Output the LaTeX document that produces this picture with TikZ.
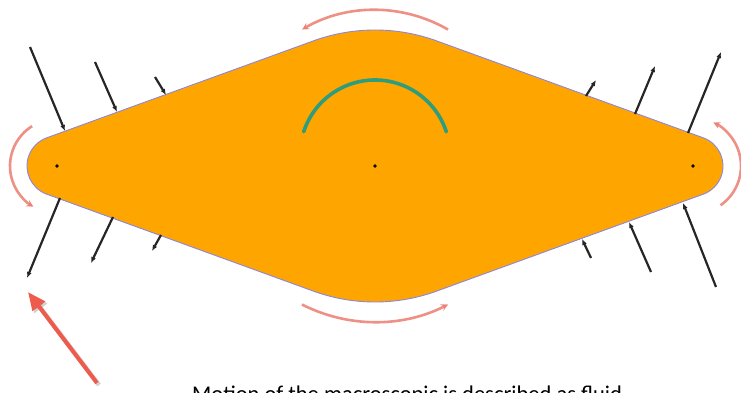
\documentclass[tikz,border=0pt]{standalone}
\usepackage{fontspec}
\setsansfont{Carlito}
\usetikzlibrary{arrows.meta,calc}

\definecolor{lobe}{HTML}{FFA500}
\definecolor{rim}{HTML}{8A86E0}
\definecolor{swirl}{HTML}{EC7C70}
\definecolor{spin}{HTML}{2F9C7C}
\definecolor{pointer}{HTML}{EE5B4D}
\definecolor{pin}{HTML}{C8927A}

\tikzset{
    flow/.style={draw=black!85, line width=2.2, -{Latex[length=6,width=5]}},
    turn/.style={draw=swirl, line width=2.6, opacity=0.85, -{Stealth[length=7,width=7]}},
}

\begin{document}
\begin{tikzpicture}[x=1pt,y=1pt]
        \useasboundingbox (0,0) rectangle (741,393);
        \coordinate (cl) at (57,227);
        \coordinate (cr) at (693,227);
        \coordinate (cm) at (375,227);
        \coordinate (ct) at (375,183);
        \coordinate (cb) at (375,271);
        % body
        \draw[rim, fill=lobe, line width=0.9]
            ($(cl)+(250:30)$) arc[start angle=250, end angle=110, radius=30]
            -- ($(ct)+(110:180)$) arc[start angle=110, end angle=70, radius=180]
            -- ($(cr)+(70:30)$) arc[start angle=70, end angle=-70, radius=30]
            -- ($(cb)+(-70:180)$) arc[start angle=-70, end angle=-110, radius=180]
            -- cycle;
        \foreach \p in {cl, cr, cm}{
            \fill[pin] (\p) circle (1.8);
        }
        % rotation
        \draw[spin, line width=3.6, line cap=round] ($(375,238)+(162:75)$) arc[start angle=162, end angle=18, radius=75];
        \draw[turn] ($(cl)+(122:47)$) arc[start angle=122, end angle=240, radius=47];
        \draw[turn] ($(375,237)+(60:146)$) arc[start angle=60, end angle=120, radius=146];
        \draw[turn] ($(375,232)+(243:161)$) arc[start angle=243, end angle=297, radius=161];
        \draw[turn] ($(cr)+(-55:48)$) arc[start angle=-55, end angle=65, radius=48];
        % normal flow
        \foreach \xa/\ya/\xb/\yb in {30/346/65/262, 95/331/117/281, 155/316/166/298,
                                     60/195/27/115, 113/176/91/130, 161/158/152/142,
                                     586/297/596/313, 635/279/655/327, 688/260/721/341,
                                     591/135/582/154, 651/121/629/171, 716/106/683/190}{
            \draw[flow] (\xa,\ya) -- (\xb,\yb);
        }
        % pointer
        \draw[black, opacity=0.18, line width=4.5, -{Triangle[length=18,width=15]}] (99,8) -- (30,99);
        \draw[pointer, line width=4, -{Triangle[length=18,width=15]}] (97,10) -- (28,101);
        \node[anchor=base west, font=\sffamily\fontsize{22.5}{27}\selectfont, inner sep=0] (caption) at (192,-9)
            {Motion of the macroscopic is described as fluid};
\end{tikzpicture}
\end{document}
